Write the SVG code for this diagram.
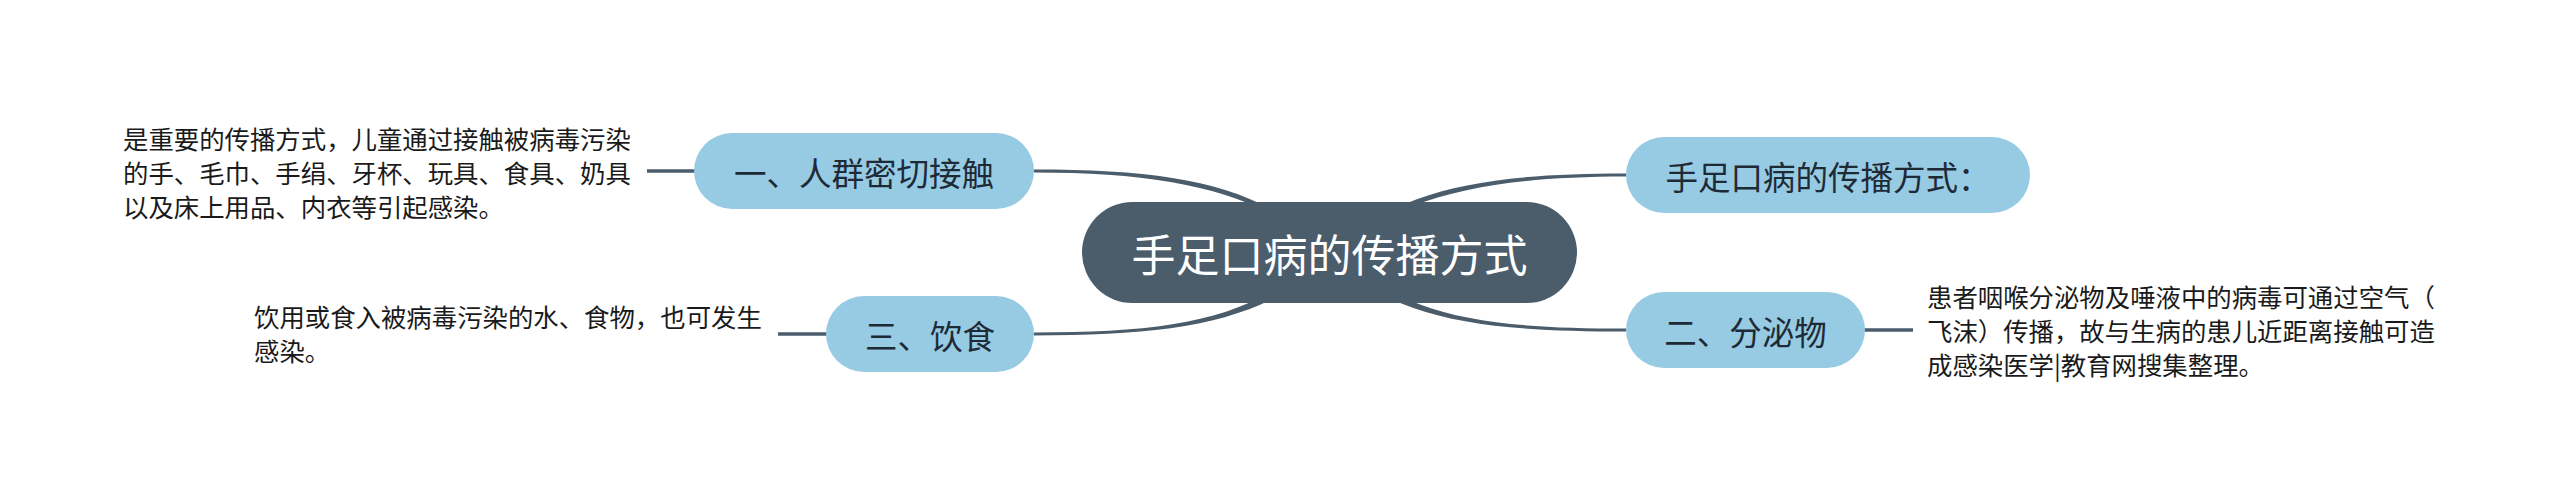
<svg xmlns="http://www.w3.org/2000/svg" width="2560" height="502" viewBox="0 0 2560 502">
<style>
.bg{fill:#ffffff}
.root{fill:#4b5c6b}
.sub{fill:#96cbe3}
.rt{font-family:"Noto Sans CJK SC","Noto Sans",sans-serif;font-size:44px;fill:#ffffff;text-anchor:middle;dominant-baseline:central}
.st{font-family:"Noto Sans CJK SC","Noto Sans",sans-serif;font-size:32.5px;fill:#1e2a36;text-anchor:middle;dominant-baseline:central}
.dt{font-family:"Noto Sans CJK SC","Noto Sans",sans-serif;font-size:25.4px;fill:#1a1a1a;dominant-baseline:central}
.cf{fill:#4b5c6b}
.cl{stroke:#4b5c6b;stroke-width:3.5;fill:none}
</style>
<rect class="bg" x="0" y="0" width="2560" height="502"/>
<g id="connectors">
<path class="cf" d="M1034 169.5 C1180 169.5 1258 186 1326 248 L1334 256 C1262 194 1180 172.5 1034 172.5 Z"/>
<path class="cf" d="M1626 173.5 C1480 173.5 1402 190 1334 248 L1326 256 C1398 198 1480 176.5 1626 176.5 Z"/>
<path class="cf" d="M1034 332.5 C1180 332.5 1258 318 1326 249 L1334 257 C1262 322 1180 335.5 1034 335.5 Z"/>
<path class="cf" d="M1626 328.5 C1480 328.5 1402 316 1334 249 L1326 257 C1398 320 1480 331.5 1626 331.5 Z"/>
<line class="cl" x1="647" y1="171" x2="696" y2="171"/>
<line class="cl" x1="778" y1="334" x2="828" y2="334"/>
<line class="cl" x1="1863" y1="330" x2="1913" y2="330"/>
</g>
<g id="root">
<rect class="root" x="1082" y="202" width="495" height="101" rx="50.5"/>
<text class="rt" x="1329.5" y="252.5">手足口病的传播方式</text>
</g>
<g id="node-1">
<rect class="sub" x="694" y="133" width="340" height="76" rx="38"/>
<text class="st" x="864" y="171">一、人群密切接触</text>
</g>
<g id="node-1-desc">
<text class="dt" x="123" y="138">是重要的传播方式，儿童通过接触被病毒污染</text>
<text class="dt" x="123" y="172">的手、毛巾、手绢、牙杯、玩具、食具、奶具</text>
<text class="dt" x="123" y="206">以及床上用品、内衣等引起感染。</text>
</g>
<g id="node-title">
<rect class="sub" x="1626" y="137" width="404" height="76" rx="38"/>
<text class="st" x="1828" y="175">手足口病的传播方式：</text>
</g>
<g id="node-2">
<rect class="sub" x="1626" y="292" width="239" height="76" rx="38"/>
<text class="st" x="1745.5" y="330">二、分泌物</text>
</g>
<g id="node-2-desc">
<text class="dt" x="1927" y="296">患者咽喉分泌物及唾液中的病毒可通过空气（</text>
<text class="dt" x="1927" y="330">飞沫）传播，故与生病的患儿近距离接触可造</text>
<text class="dt" x="1927" y="364">成感染医学|教育网搜集整理。</text>
</g>
<g id="node-3">
<rect class="sub" x="826" y="296" width="208" height="76" rx="38"/>
<text class="st" x="930" y="334">三、饮食</text>
</g>
<g id="node-3-desc">
<text class="dt" x="254" y="316">饮用或食入被病毒污染的水、食物，也可发生</text>
<text class="dt" x="254" y="350">感染。</text>
</g>
</svg>
